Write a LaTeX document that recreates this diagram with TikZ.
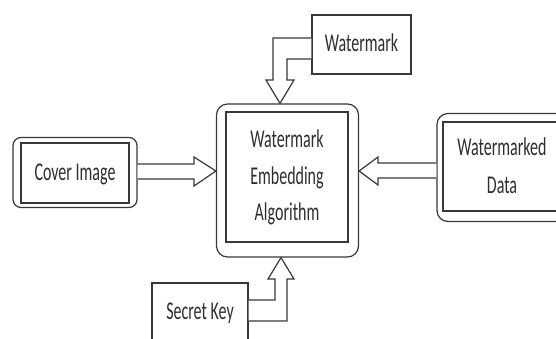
\documentclass[tikz,border=0pt]{standalone}
\usepackage{fontspec}
\setmainfont{Carlito}
\usepackage{graphicx}
\newcommand\vs[1]{\scalebox{1}[1.6]{\begin{tabular}{@{}c@{}}#1\end{tabular}}}
\begin{document}
\begin{tikzpicture}[x=1pt,y=-1pt,
  ln/.style={draw=black!78,line width=1.2pt},
  outer/.style={ln,rounded corners=11pt,inner sep=0pt},
  inner/.style={ln,inner sep=0pt,text=black!82,font=\fontsize{16}{22.8}\selectfont},
  plain/.style={ln,inner sep=0pt,text=black!82,font=\fontsize{16}{22.8}\selectfont},
  harrow/.style={ln,fill=white,line join=miter}]
\useasboundingbox (0,0) rectangle (556,338);
\fill[white] (0,0) rectangle (556,338);
% central
\node[outer,minimum width=142pt,minimum height=153pt] (alg) at (287.5,180.5) {};
\node[inner,minimum width=122pt,minimum height=130pt] (algin) at (287,177) {\vs{Watermark\\Embedding\\Algorithm}};
% cover image
\node[outer,rounded corners=8pt,minimum width=124pt,minimum height=70pt] (cov) at (75,172.5) {};
\node[inner,minimum width=108pt,minimum height=60pt] (covin) at (75,173) {\vs{Cover Image}};
% watermarked data
\node[outer,minimum width=130pt,minimum height=108pt] (wd) at (502,167.5) {};
\node[inner,minimum width=118pt,minimum height=89pt] (wdin) at (502,166.5) {\fontsize{16}{23.8}\selectfont\vs{Watermarked\\Data}};
% watermark
\node[plain,minimum width=99pt,minimum height=59pt] (wm) at (361.5,44.5) {\raisebox{2pt}{\vs{Watermark}}};
% secret key
\node[plain,minimum width=96pt,minimum height=58pt] (sk) at (200,312) {\vs{Secret Key}};
% arrows
\draw[harrow] (wm.west |- 0,38) -- (273,38) -- (273,80) -- (266,80) -- (alg.north -| 280,0) -- (294,80) -- (287,80) -- (287,59) -- (wm.west |- 0,59);
\draw[harrow] (cov.east |- 0,164) -- (194,164) -- (194,157) -- (alg.west |- 0,171) -- (194,186) -- (194,179) -- (cov.east |- 0,179);
\draw[harrow] (wd.west |- 0,163) -- (378,163) -- (378,157) -- (alg.east |- 0,171) -- (378,185) -- (378,178) -- (wd.west |- 0,178);
\draw[harrow] (sk.east |- 0,300) -- (275,300) -- (275,279) -- (268,279) -- (alg.south -| 281,0) -- (294,279) -- (287,279) -- (287,321) -- (sk.east |- 0,321);
\end{tikzpicture}
\end{document}
